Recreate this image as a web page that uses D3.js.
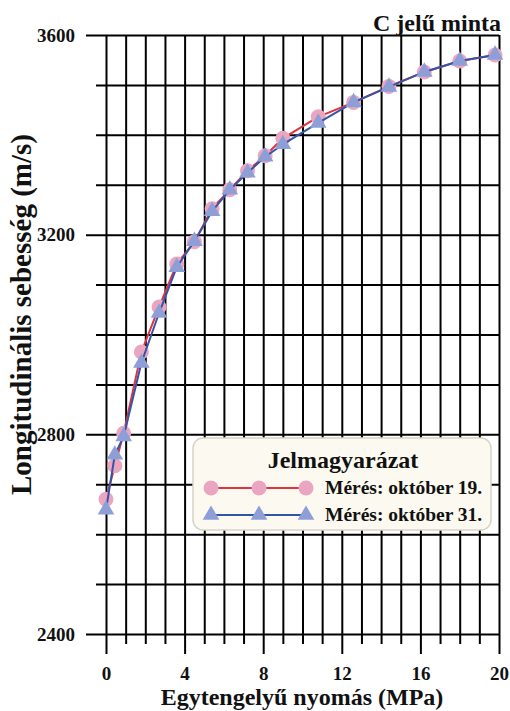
<!DOCTYPE html>
<html>
<head>
<meta charset="utf-8">
<script src="https://cdn.jsdelivr.net/npm/d3@7"></script>
<style>
  html, body { margin: 0; padding: 0; background: #fff; }
  svg { display: block; }
  svg text { font-family: 'Liberation Serif', Tinos, 'Times New Roman', Times, serif !important; font-weight: bold; fill: #111; }
</style>
</head>
<body>
<svg id="chart" width="510" height="711"></svg>
<script>
// measured pressures (MPa)
const pressure = [0, 0.45, 0.9, 1.8, 2.7, 3.6, 4.5, 5.4, 6.3, 7.2, 8.1, 9.0, 10.8, 12.6, 14.4, 16.2, 18.0, 19.8];
// longitudinal velocity, october 19 (m/s)
const oct19 = [2670, 2737, 2802, 2965, 3055, 3141, 3186, 3252, 3290, 3328, 3358, 3393, 3436, 3465, 3497, 3526, 3548, 3560];
// longitudinal velocity, october 31 (m/s)
const oct31 = [2649, 2759, 2796, 2943, 3043, 3135, 3187, 3247, 3290, 3324, 3356, 3381, 3424, 3465, 3496, 3526, 3548, 3560];

const xTicks = d3.range(0, 21, 1);
const yTicks = d3.range(2400, 3601, 100);
const legendLabels = ['Mérés: október 19.', 'Mérés: október 31.'];

const chartTitle = 'C jelű minta';
const xTitle = 'Egytengelyű nyomás (MPa)';
const yTitle = 'Longitudinális sebesség (m/s)';

const svg = d3.select('#chart');
const plotLeft = 106, plotRight = 499, plotTop = 35, plotBottom = 634;
const serif = "'Liberation Serif', Tinos, 'Times New Roman', Times, serif";

const x = d3.scaleLinear().domain([0, 20]).range([plotLeft, plotRight]);
const y = d3.scaleLinear().domain([2400, 3600]).range([plotBottom, plotTop]);

//x axis + vertical grid
const xAxis = svg.append('g')
    .attr('transform', `translate(0,${plotBottom})`)
    .call(d3.axisBottom(x)
        .tickValues(xTicks)
        .tickSize(20)
        .tickPadding(13)
        .tickFormat(d => d % 4 === 0 ? d : ''));
xAxis.attr('font-family', serif).attr('font-size', 19);
xAxis.select('.domain').remove();
xAxis.selectAll('.tick line')
    .attr('y1', plotTop - plotBottom)
    .attr('y2', d => d % 4 === 0 ? 20 : 10)
    .attr('stroke', '#000')
    .attr('stroke-width', 2);

//y axis + horizontal grid
const yAxis = svg.append('g')
    .attr('transform', `translate(${plotLeft},0)`)
    .call(d3.axisLeft(y)
        .tickValues(yTicks)
        .tickSize(20)
        .tickPadding(11)
        .tickFormat(d => d % 400 === 0 ? d : ''));
yAxis.attr('font-family', serif).attr('font-size', 19);
yAxis.select('.domain').remove();
yAxis.selectAll('.tick line')
    .attr('x1', plotRight - plotLeft)
    .attr('x2', d => d % 400 === 0 ? -20 : -10)
    .attr('stroke', '#000')
    .attr('stroke-width', 2);

//titles
svg.append('text')
    .attr('x', 501).attr('y', 31)
    .attr('text-anchor', 'end')
    .style('font-size', '24px')
    .text(chartTitle);

svg.append('text')
    .attr('x', 302).attr('y', 705)
    .attr('text-anchor', 'middle')
    .style('font-size', '24px')
    .text(xTitle);

svg.append('text')
    .attr('transform', 'translate(31,495) rotate(-90)')
    .attr('text-anchor', 'start')
    .style('font-size', '29px')
    .text(yTitle);

//series
const line = d3.line()
    .x((d, i) => x(pressure[i]))
    .y(d => y(d));

const triangle = d3.symbol().type(d3.symbolTriangle).size(120);

svg.append('path')
    .datum(oct19)
    .attr('d', line)
    .attr('fill', 'none')
    .attr('stroke', '#e2323f')
    .attr('stroke-width', 2);

svg.append('g').selectAll('circle')
    .data(oct19)
    .join('circle')
    .attr('cx', (d, i) => x(pressure[i]))
    .attr('cy', d => y(d))
    .attr('r', 7.5)
    .attr('fill', '#eaa6c0');

svg.append('path')
    .datum(oct31)
    .attr('d', line)
    .attr('fill', 'none')
    .attr('stroke', '#3454a8')
    .attr('stroke-width', 2);

svg.append('g').selectAll('path')
    .data(oct31)
    .join('path')
    .attr('d', triangle)
    .attr('transform', (d, i) => `translate(${x(pressure[i])},${y(d)})`)
    .attr('fill', '#8e9fd8');

//legend
const legend = svg.append('g').attr('transform', 'translate(193,438)');
legend.append('rect')
    .attr('width', 298).attr('height', 92)
    .attr('rx', 10)
    .attr('fill', '#fcfaf0')
    .attr('stroke', '#d6d3c6')
    .attr('stroke-width', 1.5);
legend.append('text')
    .attr('x', 150).attr('y', 30)
    .attr('text-anchor', 'middle')
    .style('font-size', '24px')
    .text('Jelmagyarázat');

const markX = [18, 66, 113];
const rows = [
    { color: '#e2323f', fill: '#eaa6c0', shape: 'circle', y: 50 },
    { color: '#3454a8', fill: '#8e9fd8', shape: 'triangle', y: 77 }
];
rows.forEach((r, k) => {
    legend.append('line')
        .attr('x1', markX[0]).attr('x2', markX[2])
        .attr('y1', r.y).attr('y2', r.y)
        .attr('stroke', r.color).attr('stroke-width', 2);
    markX.forEach(mx => {
        if (r.shape === 'circle') {
            legend.append('circle')
                .attr('cx', mx).attr('cy', r.y).attr('r', 7.5)
                .attr('fill', r.fill);
        } else {
            legend.append('path')
                .attr('d', triangle)
                .attr('transform', `translate(${mx},${r.y})`)
                .attr('fill', r.fill);
        }
    });
    legend.append('text')
        .attr('x', 132).attr('y', r.y + 6)
        .style('font-size', '19.5px')
        .text(legendLabels[k]);
});
</script>
</body>
</html>
